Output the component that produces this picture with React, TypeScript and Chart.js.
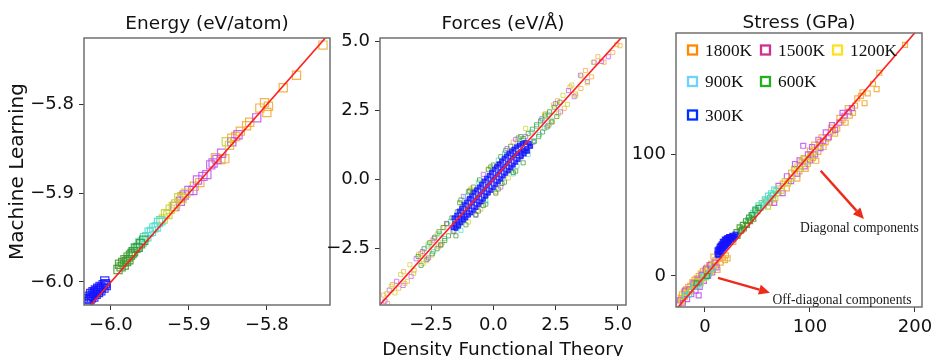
import React, { useEffect, useRef } from 'react';
import { Chart, registerables } from 'chart.js';

Chart.register(...registerables);

const W = 939;
const H = 356;

type P = [number, number];

// ---- series meta ----
const temperatures = ['1800K', '1500K', '1200K', '900K', '600K', '300K'];
const pointColors = ['#f0a830', '#c050f0', '#c8d030', '#48dcc8', '#3c9628', '#1414ff'];
const legendColors = ['#ff8a00', '#d03090', '#ffe020', '#70d0ff', '#20b020', '#0030ff'];

// ---- Energy (eV/atom): [DFT, ML] ----
const energy1800K: P[] = [
  [-5.909, -5.904], [-5.893, -5.892], [-5.886, -5.888], [-5.866, -5.860], [-5.859, -5.862],
  [-5.854, -5.861], [-5.845, -5.838], [-5.840, -5.836], [-5.834, -5.830], [-5.826, -5.824],
  [-5.822, -5.820], [-5.809, -5.804], [-5.803, -5.798], [-5.800, -5.809], [-5.798, -5.802],
  [-5.779, -5.781], [-5.762, -5.767], [-5.728, -5.733],
];
const energy1500K: P[] = [
  [-5.918, -5.915], [-5.911, -5.909], [-5.906, -5.902], [-5.900, -5.897], [-5.895, -5.897],
  [-5.889, -5.885], [-5.882, -5.881], [-5.877, -5.879], [-5.872, -5.868], [-5.869, -5.866],
  [-5.864, -5.862], [-5.858, -5.855], [-5.845, -5.842], [-5.837, -5.834], [-5.813, -5.815],
];
const energy1200K: P[] = [
  [-5.933, -5.929], [-5.930, -5.923], [-5.927, -5.924], [-5.924, -5.918], [-5.920, -5.915],
  [-5.917, -5.912], [-5.913, -5.905], [-5.909, -5.906], [-5.904, -5.900], [-5.852, -5.842],
  [-5.848, -5.846],
];
const energy900K: P[] = [
  [-5.972, -5.966], [-5.969, -5.962], [-5.966, -5.961], [-5.963, -5.956], [-5.960, -5.955],
  [-5.957, -5.950], [-5.954, -5.949], [-5.951, -5.944], [-5.948, -5.943], [-5.945, -5.939],
  [-5.942, -5.938], [-5.939, -5.933], [-5.936, -5.931],
];
const energy600K: P[] = [
  [-5.991, -5.986], [-5.989, -5.980], [-5.987, -5.983], [-5.985, -5.978], [-5.983, -5.981],
  [-5.982, -5.975], [-5.980, -5.977], [-5.978, -5.972], [-5.977, -5.975], [-5.975, -5.970],
  [-5.973, -5.968], [-5.971, -5.966], [-5.968, -5.962], [-5.965, -5.961], [-5.962, -5.957],
  [-5.958, -5.953],
];
const energy300K: P[] = [
  [-6.031, -6.024], [-6.030, -6.019], [-6.029, -6.022], [-6.028, -6.016], [-6.027, -6.020],
  [-6.026, -6.013], [-6.025, -6.018], [-6.024, -6.015], [-6.023, -6.011], [-6.022, -6.017],
  [-6.021, -6.012], [-6.020, -6.009], [-6.019, -6.014], [-6.018, -6.010], [-6.017, -6.007],
  [-6.016, -6.012], [-6.015, -6.008], [-6.014, -6.005], [-6.013, -6.010], [-6.012, -6.006],
  [-6.010, -6.003], [-6.009, -6.007], [-6.008, -5.999], [-6.007, -6.002], [-6.006, -6.004],
];

// ---- Forces (eV/Å) ----
const forces1800K: P[] = [
  [-4.40, -4.20], [-4.25, -4.50], [-4.05, -3.82], [-3.80, -3.95], [-3.60, -3.35], [-3.45, -3.70],
  [-3.18, -3.30], [-2.92, -2.70], [-2.70, -2.95], [-2.45, -2.22], [-2.20, -2.45], [-1.98, -1.75],
  [-0.90, -0.35], [-0.50, -1.08], [0.10, -0.45], [0.80, 1.35],
  [2.10, 2.38], [2.38, 2.10], [2.58, 2.85], [2.85, 2.58], [3.08, 3.35], [3.30, 3.10],
  [3.52, 3.30], [3.70, 3.95], [3.95, 3.72], [4.20, 4.45], [4.45, 4.25], [4.80, 4.60],
  [4.96, 4.89], [5.09, 4.85],
];
const forces1500K: P[] = [
  [-4.35, -4.42], [-4.18, -4.02], [-3.88, -3.70], [-3.62, -3.85], [-3.30, -3.52], [-3.10, -2.88],
  [-2.85, -2.62], [-2.60, -2.85], [-2.38, -2.15], [-2.12, -2.38], [-1.85, -1.62], [-1.62, -1.90],
  [-1.20, -0.62], [-0.95, -0.70], [-0.70, -1.28], [-0.55, -0.82], [-0.40, 0.18], [0.25, 0.52],
  [0.30, -0.28], [0.55, 1.12], [0.72, 0.45], [0.90, 1.45], [1.30, 1.55], [1.60, 1.35],
  [1.95, 2.20], [2.20, 1.95], [2.50, 2.75], [2.70, 2.45], [3.02, 3.22], [3.25, 3.00],
  [3.50, 3.78], [3.78, 3.55], [4.05, 4.25], [4.35, 4.28], [4.62, 4.45],
];
const forces1200K: P[] = [
  [-4.28, -4.15], [-4.10, -3.88], [-3.95, -4.12], [-3.72, -3.45], [-3.55, -3.78], [-3.35, -3.10],
  [-3.20, -3.42], [-3.00, -2.72], [-2.82, -3.05], [-2.62, -2.35], [-2.48, -2.75], [-2.25, -1.98],
  [-2.05, -2.30], [-1.00, -1.55], [-0.20, 0.38], [0.60, 0.05], [1.30, 1.85],
  [2.05, 2.35], [2.25, 1.98], [2.42, 2.70], [2.62, 2.38], [2.80, 3.05],
  [2.98, 2.72], [3.15, 3.42], [3.32, 3.05], [3.55, 3.75], [3.78, 3.50], [4.02, 4.25],
];
const forces900K: P[] = [
  [-2.62, -2.42], [-2.40, -2.62], [-2.15, -1.98], [-1.95, -2.15], [-1.72, -1.52], [-1.50, -1.74],
  [-1.30, -1.85], [-1.10, -0.62], [-0.60, -0.10], [-0.30, -0.78], [0.20, 0.70], [0.45, 0.95],
  [0.80, 0.20], [0.95, 0.48], [1.40, 0.90],
  [1.20, 1.42], [1.35, 1.10], [1.52, 1.72], [1.62, 1.40], [1.75, 1.92], [1.85, 1.62],
  [1.96, 2.15], [2.05, 1.85], [2.20, 2.36], [2.32, 2.15],
];
const forces600K: P[] = [
  [-3.02, -2.80], [-2.90, -3.12], [-2.78, -2.52], [-2.66, -2.90], [-2.55, -2.30], [-2.45, -2.70],
  [-2.35, -2.10], [-2.26, -2.52], [-2.18, -1.90], [-2.10, -2.38], [-2.02, -1.75], [-1.95, -2.22],
  [-1.88, -1.60], [-1.80, -2.05], [-1.66, -1.40], [-1.58, -1.88], [-1.50, -2.05], [-1.45, -1.18],
  [-1.38, -1.66], [-1.35, -0.85], [-1.30, -0.75], [-1.25, -0.98], [-1.18, -1.45], [-1.10, -1.65],
  [-1.00, -0.45], [-0.95, -0.42], [-0.80, -0.28], [-0.70, -1.30], [-0.60, -1.15], [-0.55, -0.02],
  [-0.40, -0.95], [-0.30, -0.90], [-0.20, 0.35], [-0.10, 0.45], [0.00, 0.52], [0.10, -0.50],
  [0.20, -0.35], [0.30, 0.82], [0.35, -0.15], [0.45, -0.10], [0.50, 1.05], [0.70, 1.20],
  [0.80, 0.25], [0.90, 0.30], [1.00, 1.50], [1.10, 1.55], [1.20, 0.60],
  [-0.80, -0.45], [-0.30, -0.62], [0.20, 0.55], [0.60, 0.30],
  [1.05, 1.30], [1.12, 0.85], [1.22, 1.48], [1.30, 1.02], [1.40, 1.66], [1.48, 1.20],
  [1.57, 1.82], [1.65, 1.38], [1.74, 1.98], [1.82, 1.55], [1.90, 2.12], [1.98, 1.72],
  [2.08, 2.30], [2.16, 1.90], [2.26, 2.45], [2.35, 2.08], [2.45, 2.62], [2.55, 2.28],
  [2.68, 2.80],
];
const forces300K: P[] = [
  [-1.62, -1.75], [-1.58, -1.40], [-1.55, -1.60], [-1.50, -1.78], [-1.47, -1.30], [-1.44, -1.52],
  [-1.40, -1.70], [-1.37, -1.15], [-1.34, -1.40], [-1.30, -1.58], [-1.27, -1.05], [-1.24, -1.30],
  [-1.20, -1.48], [-1.17, -0.92], [-1.14, -1.20], [-1.10, -1.40], [-1.07, -0.82], [-1.04, -1.08],
  [-1.00, -1.30], [-0.97, -0.70], [-0.94, -0.98], [-0.90, -1.22], [-0.87, -0.60], [-0.84, -0.86],
  [-0.80, -1.12], [-0.77, -0.48], [-0.74, -0.76], [-0.70, -1.02], [-0.67, -0.38], [-0.64, -0.66],
  [-0.60, -0.92], [-0.57, -0.28], [-0.54, -0.55], [-0.50, -0.82], [-0.47, -0.18], [-0.44, -0.45],
  [-0.40, -0.72], [-0.37, -0.06], [-0.34, -0.35], [-0.30, -0.60], [-0.27, 0.04], [-0.24, -0.24],
  [-0.20, -0.50], [-0.17, 0.14], [-0.14, -0.13], [-0.10, -0.40], [-0.07, 0.25], [-0.04, -0.02],
  [0.00, -0.30], [0.03, 0.36], [0.06, 0.08], [0.10, -0.18], [0.13, 0.46], [0.16, 0.18],
  [0.20, -0.08], [0.23, 0.56], [0.26, 0.28], [0.30, 0.02], [0.33, 0.66], [0.36, 0.38],
  [0.40, 0.12], [0.43, 0.76], [0.46, 0.48], [0.50, 0.22], [0.53, 0.85], [0.56, 0.58],
  [0.60, 0.32], [0.63, 0.94], [0.66, 0.68], [0.70, 0.42], [0.73, 1.02], [0.76, 0.78],
  [0.80, 0.52], [0.83, 1.10], [0.86, 0.86], [0.90, 0.62], [0.93, 1.18], [0.96, 0.94],
  [1.00, 0.72], [1.04, 1.24], [1.08, 1.00], [1.12, 0.82], [1.16, 1.30], [1.20, 1.06],
  [1.24, 0.92], [1.28, 1.34], [1.33, 1.12], [1.38, 1.02], [1.44, 1.30], [1.50, 1.20],
];

// ---- Stress (GPa) ----
const stress1800K: P[] = [
  [-25, -23], [-23, -18], [-22, -15], [-21, -20], [-20, -13], [-19, -17], [-18, -11], [-17, -15],
  [-16, -9], [-15, -13], [-14, -8], [-13, -11], [-12, -5], [-11, -9], [-10, -3], [-9, -7],
  [-8, -2], [-7, -5], [-6, 0], [-5, -4], [-4, 2], [-3, -2], [-2, 4], [-1, 0], [0, 5], [1, 1],
  [2, 7], [3, 2], [4, 9], [5, 4], [6, 10], [7, 5], [8, 16], [9, 8], [10, 13], [11, 9],
  [12, 5], [13, 14], [15, 11], [17, 15], [19, 13], [20, 17], [21.6, 14.5], [24, 30], [27, 28],
  [58, 62], [62, 60], [65, 63], [70, 68], [74, 76], [78, 72], [80, 78], [82, 85], [85, 88],
  [88, 80], [90, 86], [92, 94], [94, 97], [96, 88], [98, 92], [100, 103], [101, 100],
  [103, 97], [104, 108], [106, 94.7], [108, 102], [109.5, 110], [111, 114], [113, 106],
  [115, 110], [117, 113], [120, 122], [122, 119], [124, 117], [126, 121], [128, 130],
  [131, 128], [134, 126], [136, 138], [138, 131.7], [141, 134], [143, 140], [145, 146],
  [148.6, 148], [150, 151], [152, 142], [155, 150], [160, 158], [163.5, 153.6], [166, 167],
  [190.5, 190],
];
const stress1500K: P[] = [
  [-24, -20], [-21, -22], [-19, -12], [-17, -19], [-15, -11], [-13, -15], [-11, -6], [-9, -12],
  [-7, -3], [-6, -16], [-5, -9], [-3, 1], [-1, -4], [1, 6], [3, 0], [5, 9], [7, 3], [9, 11],
  [11, 7],
  [62, 64], [66, 60], [70, 74], [74, 68], [78, 82], [82, 78], [85.7, 92], [88, 84], [90, 95],
  [93.6, 107], [95, 90], [98, 100], [100, 95], [102, 106], [105, 100], [108, 112], [110, 105],
  [112.7, 111], [115, 118], [118, 114], [121, 124], [124, 120], [128, 126], [131, 134],
  [133, 131.7], [137, 135], [140, 138],
];
const stress1200K: P[] = [
  [-22, -21], [-18, -14], [-14, -12], [-10, -8], [-7, -4], [-4, -6], [-1, -2], [2, 3], [5, 3],
  [8, 9],
  [56, 60], [60, 57], [64, 66], [67, 64], [70, 72], [73, 70], [76, 78], [79, 76], [82, 80],
  [85, 87], [88, 90], [91, 88], [94, 96], [97, 94], [100, 98], [104, 102], [108, 106],
];
const stress900K: P[] = [
  [-19, -16], [-15, -15], [-11, -9], [-7, -8], [-5, -6], [-2, 0], [1, -1], [4, 2], [7, 6],
  [41, 46], [44, 50], [46, 52], [48, 55], [50, 53], [51, 58], [53, 56], [54, 60], [56, 58],
  [57, 63], [59, 61], [60, 66], [62, 64], [63, 68], [65, 67], [66, 71], [68, 70],
];
const stress600K: P[] = [
  [-8, -6], [2, 0],
  [30, 36], [31, 33], [33, 40], [34, 37], [35, 38], [36, 42], [37, 39], [39, 45], [40, 42],
  [42, 48], [43, 45], [45, 50], [46, 47], [48, 54], [51, 56],
];
const stress300K: P[] = [
  [12, 18], [12, 21], [13, 22], [13, 17], [14, 24], [14, 20], [15, 20], [15, 25], [16, 26],
  [16, 22], [17, 23], [17, 28], [18, 28], [18, 24], [19, 25], [19, 30], [20, 30], [20, 26],
  [21, 27], [21, 31], [22, 31], [22, 28], [23, 29], [23, 32], [24, 32], [25, 30], [26, 33],
  [27, 31], [28, 32], [29, 34],
];

// ---- tick labels ----
const energyXTicks = [-6.0, -5.9, -5.8];
const energyYTicks = [-6.0, -5.9, -5.8];
const forcesXTicks = [-2.5, 0.0, 2.5, 5.0];
const forcesYTicks = [-2.5, 0.0, 2.5, 5.0];
const stressXTicks = [0, 100, 200];
const stressYTicks = [0, 100];

// ---- axis ranges ----
const energyRange = { xMin: -6.0346, xMax: -5.719, yMin: -6.026, yMax: -5.725 };
const forcesRange = { xMin: -4.55, xMax: 5.33, yMin: -4.56, yMax: 5.13 };
const stressRange = { xMin: -27.6, xMax: 206.7, yMin: -25.5, yMax: 199.7 };

// ---- annotations (data coordinates of panel 3) ----
const annotationTexts = ['Diagonal components', 'Off-diagonal components'];
const annotationArrows = [
  { from: [110.2, 86.5], to: [151.4, 46.8], label: [147.1, 39.4] },
  { from: [12.4, -1.6], to: [61.9, -13.7], label: [130.5, -19.7] },
];

const SANS = '"DejaVu Sans", sans-serif';
const SERIF = '"Liberation Serif", "Times New Roman", serif';

function withAlpha(hex: string, a: number) {
  const n = parseInt(hex.slice(1), 16);
  return `rgba(${(n >> 16) & 255},${(n >> 8) & 255},${n & 255},${a})`;
}

const fmt1 = (v: number) => (Math.abs(v) < 1e-9 ? 0 : v).toFixed(1).replace('-', '\u2212');
const fmt0 = (v: number) => (Math.abs(v) < 1e-9 ? 0 : v).toFixed(0).replace('-', '\u2212');

const framePlugin = {
  id: 'frame',
  afterDraw(chart: any) {
    const { ctx, chartArea: a } = chart;
    ctx.save();
    ctx.strokeStyle = '#707070';
    ctx.lineWidth = 1.5;
    ctx.strokeRect(a.left, a.top, a.right - a.left, a.bottom - a.top);
    ctx.restore();
  },
};

const stressDecor = {
  id: 'stressDecor',
  afterDraw(chart: any) {
    const { ctx, chartArea: a, scales } = chart;
    const xs = scales.x;
    const ys = scales.y;
    ctx.save();
    // legend
    const cols = [12, 85, 157];
    const rows = [17, 48.5, 82];
    const layout = [[0, 0], [0, 1], [0, 2], [1, 0], [1, 1], [2, 0]];
    ctx.font = `17.3px ${SERIF}`;
    ctx.textBaseline = 'middle';
    ctx.textAlign = 'left';
    temperatures.forEach((t, i) => {
      const [r, c] = layout[i];
      const sx = a.left + cols[c];
      const sy = a.top + rows[r];
      ctx.strokeStyle = legendColors[i];
      ctx.lineWidth = 2.3;
      ctx.strokeRect(sx, sy - 4.5, 9, 9);
      ctx.fillStyle = '#111';
      ctx.fillText(t, sx + 17, sy + 1);
    });
    // arrows + texts
    const red = '#ee2b1b';
    annotationArrows.forEach((arw, i) => {
      const x1 = xs.getPixelForValue(arw.from[0]);
      const y1 = ys.getPixelForValue(arw.from[1]);
      const x2 = xs.getPixelForValue(arw.to[0]);
      const y2 = ys.getPixelForValue(arw.to[1]);
      const ang = Math.atan2(y2 - y1, x2 - x1);
      const hl = 11;
      const hw = 5;
      const bx = x2 - hl * Math.cos(ang);
      const by = y2 - hl * Math.sin(ang);
      ctx.strokeStyle = red;
      ctx.fillStyle = red;
      ctx.lineWidth = 2.5;
      ctx.beginPath();
      ctx.moveTo(x1, y1);
      ctx.lineTo(bx, by);
      ctx.stroke();
      ctx.beginPath();
      ctx.moveTo(x2, y2);
      ctx.lineTo(bx + hw * Math.sin(ang), by - hw * Math.cos(ang));
      ctx.lineTo(bx - hw * Math.sin(ang), by + hw * Math.cos(ang));
      ctx.closePath();
      ctx.fill();
      ctx.fillStyle = '#1a1a1a';
      ctx.font = `13.6px ${SERIF}`;
      ctx.textAlign = 'center';
      ctx.textBaseline = 'middle';
      ctx.fillText(
        annotationTexts[i],
        xs.getPixelForValue(arw.label[0]),
        ys.getPixelForValue(arw.label[1])
      );
    });
    ctx.restore();
  },
};

type Panel = {
  title: string;
  series: P[][];
  range: { xMin: number; xMax: number; yMin: number; yMax: number };
  xTicks: number[];
  yTicks: number[];
  fmt: (v: number) => string;
  padding: { left: number; right: number };
  yWidth: number;
  xHeight: number;
  titlePad: { top: number; bottom: number };
  radius: number;
  bw: number;
  alpha: number;
  fillBlue?: number;
  yTitle?: string;
  xTitle?: string;
  extraPlugins?: any[];
};

function buildConfig(p: Panel): any {
  const lo = Math.min(p.range.xMin, p.range.yMin) - 1;
  const hi = Math.max(p.range.xMax, p.range.yMax) + 1;
  const datasets: any[] = [
    {
      label: 'y=x',
      data: [{ x: lo, y: lo }, { x: hi, y: hi }],
      showLine: true,
      borderColor: '#ff1f1f',
      borderWidth: 1.6,
      pointRadius: 0,
      order: 0,
    },
  ];
  p.series.forEach((s, i) => {
    datasets.push({
      label: temperatures[i],
      data: s.map(([x, y]) => ({ x, y })),
      pointStyle: 'rect',
      pointRadius: p.radius,
      borderWidth: p.bw,
      borderColor: withAlpha(pointColors[i], p.alpha),
      backgroundColor:
        p.fillBlue && i === 5 ? withAlpha(pointColors[i], p.fillBlue) : 'rgba(0,0,0,0)',
      showLine: false,
      order: 6 - i,
    });
  });
  const tickFont = { family: SANS, size: 18 };
  const grid = {
    display: true,
    drawOnChartArea: false,
    drawTicks: true,
    tickLength: 5,
    tickColor: '#333',
    tickWidth: 1,
  };
  return {
    type: 'scatter',
    data: { datasets },
    options: {
      responsive: false,
      animation: false,
      devicePixelRatio: 1,
      events: [],
      layout: { padding: { left: p.padding.left, right: p.padding.right, top: 0, bottom: 0 } },
      scales: {
        x: {
          type: 'linear',
          min: p.range.xMin,
          max: p.range.xMax,
          afterBuildTicks: (s: any) => {
            s.ticks = p.xTicks.map((v) => ({ value: v }));
          },
          afterFit: (s: any) => {
            s.height = p.xHeight;
          },
          grid,
          border: { display: false },
          ticks: {
            color: '#111',
            font: tickFont,
            padding: 5,
            maxRotation: 0,
            autoSkip: false,
            callback: (v: any) => p.fmt(Number(v)),
          },
          title: p.xTitle
            ? {
                display: true,
                text: p.xTitle,
                color: '#111',
                font: { family: SANS, size: 18.5, lineHeight: 1.2 },
                padding: { top: 0, bottom: -5 },
              }
            : { display: false },
        },
        y: {
          type: 'linear',
          min: p.range.yMin,
          max: p.range.yMax,
          afterBuildTicks: (s: any) => {
            s.ticks = p.yTicks.map((v) => ({ value: v }));
          },
          afterFit: (s: any) => {
            s.width = p.yWidth;
          },
          grid,
          border: { display: false },
          ticks: {
            color: '#111',
            font: tickFont,
            padding: 5,
            autoSkip: false,
            callback: (v: any) => p.fmt(Number(v)),
          },
          title: p.yTitle
            ? {
                display: true,
                text: p.yTitle,
                color: '#111',
                font: { family: SANS, size: 20, lineHeight: 1.2 },
                padding: { top: 6, bottom: 0 },
              }
            : { display: false },
        },
      },
      plugins: {
        legend: { display: false },
        tooltip: { enabled: false },
        title: {
          display: true,
          text: p.title,
          fullSize: false,
          color: '#111',
          font: { family: SANS, size: 18.5, lineHeight: 1, weight: 'normal' },
          padding: p.titlePad,
        },
      },
    },
    plugins: [framePlugin, ...(p.extraPlugins || [])],
  };
}

const panels: Panel[] = [
  {
    title: 'Energy (eV/atom)',
    series: [energy1800K, energy1500K, energy1200K, energy900K, energy600K, energy300K],
    range: energyRange,
    xTicks: energyXTicks,
    yTicks: energyYTicks,
    fmt: fmt1,
    padding: { left: 0, right: W - 330 },
    yWidth: 84,
    xHeight: 51,
    titlePad: { top: 15, bottom: 4.5 },
    radius: 5.8,
    bw: 1.2,
    alpha: 0.85,
    yTitle: 'Machine Learning',
  },
  {
    title: 'Forces (eV/Å)',
    series: [forces1800K, forces1500K, forces1200K, forces900K, forces600K, forces300K],
    range: forcesRange,
    xTicks: forcesXTicks,
    yTicks: forcesYTicks,
    fmt: fmt1,
    padding: { left: 320, right: W - 626 },
    yWidth: 60,
    xHeight: 51,
    titlePad: { top: 15, bottom: 4.5 },
    radius: 2.9,
    bw: 1,
    alpha: 0.7,
    fillBlue: 0.75,
    xTitle: 'Density Functional Theory',
  },
  {
    title: 'Stress (GPa)',
    series: [stress1800K, stress1500K, stress1200K, stress900K, stress600K, stress300K],
    range: stressRange,
    xTicks: stressXTicks,
    yTicks: stressYTicks,
    fmt: fmt0,
    padding: { left: 616, right: W - 922 },
    yWidth: 60,
    xHeight: 49,
    titlePad: { top: 14, bottom: 0.5 },
    radius: 3.5,
    bw: 1.2,
    alpha: 0.85,
    fillBlue: 0.5,
    extraPlugins: [stressDecor],
  },
];

function PanelCanvas({ panel }: { panel: Panel }) {
  const ref = useRef<HTMLCanvasElement | null>(null);
  useEffect(() => {
    if (!ref.current) return;
    const chart = new Chart(ref.current, buildConfig(panel));
    return () => chart.destroy();
  }, [panel]);
  return (
    <canvas
      ref={ref}
      width={W}
      height={H}
      style={{ position: 'absolute', left: 0, top: 0, width: W, height: H }}
    />
  );
}

export default function App() {
  return (
    <div
      style={{
        position: 'fixed',
        left: 0,
        top: 0,
        width: W,
        height: H,
        background: '#fff',
        overflow: 'hidden',
      }}
    >
      {panels.map((p, i) => (
        <PanelCanvas key={i} panel={p} />
      ))}
    </div>
  );
}
